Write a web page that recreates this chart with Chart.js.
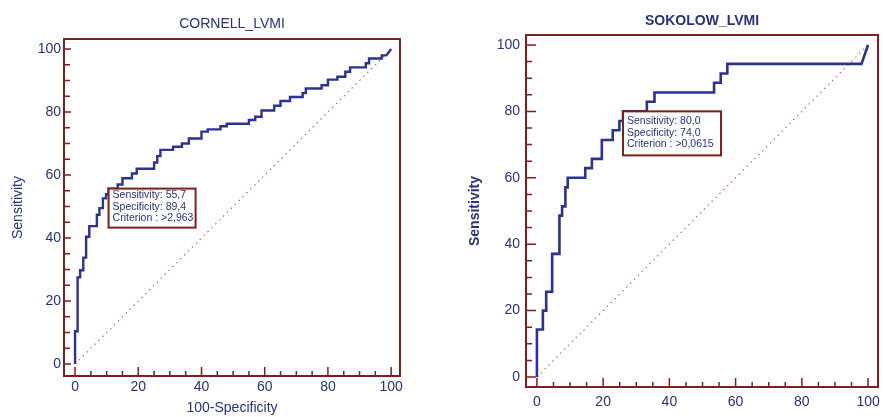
<!DOCTYPE html>
<html>
<head>
<meta charset="utf-8">
<script src="https://cdn.jsdelivr.net/npm/chart.js@4.4.1/dist/chart.umd.min.js"></script>
<style>
    html, body { margin: 0; padding: 0; background: #fff; overflow: hidden; }
    canvas { position: absolute; top: 0; }
    #cornellChart { left: 0; }
    #sokolowChart { left: 440px; }
</style>
</head>
<body>
<canvas id="cornellChart" width="420" height="417" style="width:420px;height:417px"></canvas>
<canvas id="sokolowChart" width="443" height="417" style="width:443px;height:417px"></canvas>
<script>
// ROC curve vertices: 100-Specificity (x) and Sensitivity (y)
const cornellFpr = [0, 0, 0.8, 0.8, 1.6, 1.6, 2.6, 2.6, 3.5, 3.5, 4.5, 4.5, 6.9, 6.9, 7.7, 7.7, 8.8, 8.8, 9.8, 9.8,
    10.6, 10.6, 13.5, 13.5, 15, 15, 18, 18, 19.5, 19.5, 25, 25, 26, 26, 27, 27, 31, 31, 33.8, 33.8,
    36, 36, 40, 40, 42, 42, 46, 46, 48, 48, 55, 55, 57, 57, 59, 59, 63, 63, 65, 65,
    68, 68, 72, 72, 73, 73, 78, 78, 80, 80, 83, 83, 85.5, 85.5, 87, 87, 92, 92, 93, 93,
    97, 97, 98.5, 100];
const cornellSens = [0, 10.4, 10.4, 27.5, 27.5, 29.8, 29.8, 33.8, 33.8, 40.4, 40.4, 43.8, 43.8, 47.4, 47.4, 49.5, 49.5, 52.6, 52.6, 53.9,
    53.9, 55.7, 55.7, 57, 57, 59, 59, 60.5, 60.5, 62, 62, 64, 64, 66, 66, 68, 68, 69, 69, 70,
    70, 71.6, 71.6, 73.8, 73.8, 74.5, 74.5, 75.5, 75.5, 76.3, 76.3, 77.5, 77.5, 78.5, 78.5, 80.5, 80.5, 82, 82, 83.5,
    83.5, 84.8, 84.8, 86, 86, 87.5, 87.5, 88.5, 88.5, 90.3, 90.3, 91.2, 91.2, 92.8, 92.8, 94.2, 94.2, 95.5, 95.5, 97,
    97, 98, 98, 100];

const sokolowFpr = [0, 0, 1.8, 1.8, 2.8, 2.8, 4.6, 4.6, 6.8, 6.8, 7.6, 7.6, 8.6, 8.6, 9.3, 9.3, 14.6, 14.6, 16.6, 16.6,
    19.6, 19.6, 22.9, 22.9, 24.9, 24.9, 26, 26, 33.2, 33.2, 35.5, 35.5, 53.5, 53.5, 55.5, 55.5, 57.5, 57.5, 98, 100];
const sokolowSens = [0, 14.3, 14.3, 20, 20, 25.7, 25.7, 37.1, 37.1, 48.6, 48.6, 51.4, 51.4, 57.1, 57.1, 60, 60, 62.9, 62.9, 65.7,
    65.7, 71.4, 71.4, 74.3, 74.3, 77.1, 77.1, 80, 80, 82.9, 82.9, 85.7, 85.7, 88.6, 88.6, 91.4, 91.4, 94.3, 94.3, 100];

// reference line (chance)
const diagonalX = [0, 100];
const diagonalY = [0, 100];

// axis ticks, labels only on the major ones
const axisTicks = [0, 5, 10, 15, 20, 25, 30, 35, 40, 45, 50, 55, 60, 65, 70, 75, 80, 85, 90, 95, 100];
const tickLabels = [0, 20, 40, 60, 80, 100];

// optimal cut-off points
const cornellCut = { sensitivity: 55.7, specificity: 89.4, criterion: '>2,963' };
const sokolowCut = { sensitivity: 80.0, specificity: 74.0, criterion: '>0,0615' };

const navy = '#28307f';
const lineBlue = '#2c3290';
const frameRed = '#7d1f1f';
const fontFamily = '"Liberation Sans", Arial, sans-serif';

function toPoints(xs, ys) {
    return xs.map((x, i) => ({ x: x, y: ys[i] }));
}

function fmt(v) {
    return v.toFixed(1).replace('.', ',');
}

// frame, inward tick marks and the cut-off box
const framePlugin = {
    id: 'rocFrame',
    afterDatasetsDraw(chart, args, opts) {
        const { ctx, chartArea: a, scales: { x, y } } = chart;
        ctx.save();
        ctx.strokeStyle = frameRed;
        ctx.lineWidth = 1.5;
        ctx.beginPath();
        x.ticks.forEach(t => {
            const px = x.getPixelForValue(t.value);
            const len = tickLabels.includes(t.value) ? 9 : 5;
            ctx.moveTo(px, a.bottom);
            ctx.lineTo(px, a.bottom - len);
        });
        y.ticks.forEach(t => {
            const py = y.getPixelForValue(t.value);
            const len = tickLabels.includes(t.value) ? opts.yMajor : 6;
            ctx.moveTo(a.left, py);
            ctx.lineTo(a.left + len, py);
        });
        ctx.stroke();
        ctx.lineWidth = 2;
        ctx.strokeRect(a.left, a.top, a.right - a.left, a.bottom - a.top);

        // cut-off box anchored at the chosen point of the curve
        const cut = opts.cut;
        const bx = x.getPixelForValue(100 - cut.specificity);
        const by = y.getPixelForValue(cut.sensitivity);
        ctx.fillStyle = '#fff';
        ctx.fillRect(bx, by, opts.boxW, opts.boxH);
        ctx.strokeRect(bx, by, opts.boxW, opts.boxH);
        const lines = [
            'Sensitivity: ' + fmt(cut.sensitivity),
            'Specificity: ' + fmt(cut.specificity),
            'Criterion : ' + cut.criterion
        ];
        ctx.fillStyle = navy;
        ctx.font = '10.5px ' + fontFamily;
        ctx.textBaseline = 'middle';
        lines.forEach((s, i) => {
            ctx.fillText(s, bx + 4, by + opts.firstLine + i * opts.lineGap);
        });
        ctx.restore();
    }
};

function makeScale(cfg) {
    return {
        type: 'linear',
        min: cfg.min,
        max: cfg.max,
        afterBuildTicks: (scale) => {
            scale.ticks = axisTicks.map(v => ({ value: v }));
        },
        afterFit: (scale) => {
            if (scale.isHorizontal()) {
                scale.height = cfg.size;
            } else {
                scale.width = cfg.size;
            }
            scale.paddingLeft = 0;
            scale.paddingRight = 0;
            scale.paddingTop = 0;
            scale.paddingBottom = 0;
        },
        grid: { display: false, drawTicks: false },
        border: { display: false },
        ticks: {
            autoSkip: false,
            maxRotation: 0,
            padding: cfg.pad,
            color: navy,
            font: { family: fontFamily, size: 14 },
            callback: (v) => tickLabels.includes(v) ? v : ''
        },
        title: {
            display: !!cfg.title,
            text: cfg.title || '',
            color: navy,
            font: { family: fontFamily, size: 14, weight: cfg.bold ? 'bold' : 'normal' },
            padding: cfg.titlePad
        }
    };
}

function makeRoc(canvasId, cfg) {
    return new Chart(document.getElementById(canvasId), {
        type: 'scatter',
        data: {
            datasets: [
                {
                    data: toPoints(cfg.fpr, cfg.sens),
                    showLine: true,
                    borderColor: lineBlue,
                    borderWidth: cfg.lineWidth,
                    pointRadius: 0,
                    tension: 0
                },
                {
                    data: toPoints(diagonalX, diagonalY),
                    showLine: true,
                    borderColor: '#b86a6a',
                    borderWidth: 1.2,
                    borderDash: [1.5, 4],
                    pointRadius: 0
                }
            ]
        },
        options: {
            responsive: false,
            animation: false,
            layout: { padding: { left: 0, right: cfg.rightPad, top: 0, bottom: 0 } },
            scales: {
                x: makeScale(cfg.x),
                y: makeScale(cfg.y)
            },
            plugins: {
                legend: { display: false },
                tooltip: { enabled: false },
                title: {
                    display: true,
                    text: cfg.title,
                    fullSize: false,
                    color: navy,
                    font: { family: fontFamily, size: 14, weight: cfg.bold ? 'bold' : 'normal' },
                    padding: cfg.titlePad
                },
                rocFrame: cfg.box
            }
        },
        plugins: [framePlugin]
    });
}

makeRoc('cornellChart', {
    title: 'CORNELL_LVMI',
    fpr: cornellFpr,
    sens: cornellSens,
    lineWidth: 2.4,
    rightPad: 20,
    titlePad: { top: 15.6, bottom: 6.6 },
    x: { min: -3.5, max: 102.8, size: 41, pad: 3, title: '100-Specificity', titlePad: { top: 0, bottom: 0 } },
    y: { min: -3.8, max: 103.2, size: 64, pad: 3, title: 'Sensitivity', titlePad: { top: 9.6, bottom: 0 } },
    box: { cut: cornellCut, boxW: 87, boxH: 39, firstLine: 7, lineGap: 11.5, yMajor: 7 }
});

makeRoc('sokolowChart', {
    title: 'SOKOLOW_LVMI',
    bold: true,
    fpr: sokolowFpr,
    sens: sokolowSens,
    lineWidth: 2.6,
    rightPad: 5,
    titlePad: { top: 13, bottom: 5.2 },
    x: { min: -3.3, max: 103, size: 30, pad: 7, titlePad: { top: 0, bottom: 0 } },
    y: { min: -3, max: 103, size: 86, pad: 6, title: 'Sensitivity', bold: true, titlePad: { top: 26.6, bottom: 0 } },
    box: { cut: sokolowCut, boxW: 98, boxH: 44, firstLine: 10, lineGap: 11.5, yMajor: 10 }
});
</script>
</body>
</html>
